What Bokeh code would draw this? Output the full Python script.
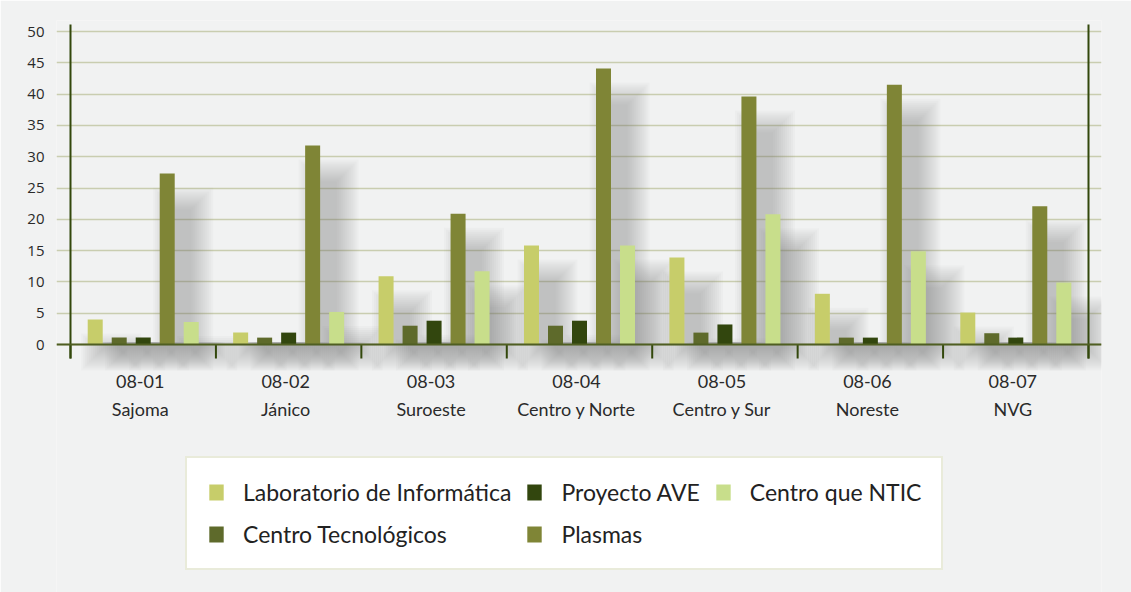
from bokeh.plotting import figure
from bokeh.models import Range1d, Legend, LegendItem, ColumnDataSource, Span
from bokeh.core.properties import value
from bokeh.embed import file_html
from bokeh.resources import INLINE
import numpy as np

# ---------------- data ----------------
codes = ["08-01", "08-02", "08-03", "08-04", "08-05", "08-06", "08-07"]
names = ["Sajoma", "Jánico", "Suroeste", "Centro y Norte", "Centro y Sur", "Noreste", "NVG"]
series = ["Laboratorio de Informática", "Centro Tecnológicos", "Proyecto AVE", "Plasmas", "Centro que NTIC"]
laboratorio = [4.0, 1.9, 10.9, 15.8, 13.9, 8.1, 5.1]
tecnologicos = [1.1, 1.1, 3.0, 3.0, 1.9, 1.1, 1.8]
proyecto_ave = [1.1, 1.9, 3.8, 3.8, 3.2, 1.1, 1.1]
plasmas = [27.3, 31.8, 20.9, 44.1, 39.6, 41.5, 22.1]
centro_ntic = [3.6, 5.2, 11.7, 15.8, 20.8, 14.9, 9.9]
y_ticks = [0, 5, 10, 15, 20, 25, 30, 35, 40, 45, 50]

values_by_series = [laboratorio, tecnologicos, proyecto_ave, plasmas, centro_ntic]
colors = ["#c7cd6a", "#5e6a2b", "#32460e", "#7f8536", "#c8de8b"]

# ---------------- layout constants ----------------
W, H = 1131, 592
LEFT, TOP, RIGHT = 56, 20, 30
ZERO_Y = 344                      # pixel row of value 0
PX_X = 145.44                     # px per category unit
PX_Y = 6.26                       # px per value unit
bar_step = 24 / PX_X
bar_w = 15 / PX_X
ncat = len(codes)

x0 = -14 / PX_X
x1 = ncat + 13 / PX_X
y0 = -(H - ZERO_Y) / PX_Y
y1 = (ZERO_Y - TOP) / PX_Y

p = figure(width=W, height=H,
           x_range=Range1d(x0, x1), y_range=Range1d(y0, y1),
           min_border_left=LEFT, min_border_right=RIGHT, min_border_top=TOP, min_border_bottom=0,
           x_axis_location=None, toolbar_location=None, output_backend="svg",
           outline_line_color=None)
p.background_fill_color = "#f1f2f2"
p.border_fill_color = "#f1f2f2"

# y axis
p.yaxis.ticker = y_ticks
p.yaxis.axis_line_color = None
p.yaxis.major_tick_line_color = None
p.yaxis.minor_tick_line_color = None
p.yaxis.major_label_standoff = 6
p.yaxis.major_label_text_font = "Open Sans"
p.yaxis.major_label_text_font_size = "15px"
p.yaxis.major_label_text_color = "#2a2a2a"
p.ygrid.grid_line_color = "#c9cdb0"
p.ygrid.grid_line_width = 1.5
for g in p.xgrid:
    g.visible = False

centers = np.arange(ncat) + 0.5
offsets = (np.arange(len(series)) - 2) * bar_step

# blurred drop shadows (stacked translucent layers)
for k, vals in enumerate(values_by_series):
    v = np.array(vals)
    xc = centers + offsets[k] + 16 / PX_X
    for i in range(12):
        grow = 2 * i
        half = (8 + grow) / PX_X
        top = np.maximum(v - (36 - grow) / PX_Y, 0.4)
        bot = -(4 + grow) / PX_Y
        p.quad(left=xc - half, right=xc + half, top=top, bottom=bot,
               fill_color="#737475", fill_alpha=0.036, line_color=None)

# bars
renderers = []
for k, vals in enumerate(values_by_series):
    src = ColumnDataSource(dict(x=centers + offsets[k], top=vals))
    r = p.vbar(x="x", top="top", width=bar_w, bottom=0, source=src,
               fill_color=colors[k], line_color=None)
    renderers.append(r)

# axis lines
p.add_layout(Span(location=0, dimension="width", line_color="#4f5e22", line_width=2))
bounds = np.arange(ncat + 1)
p.segment(x0=bounds, y0=0, x1=bounds, y1=-14 / PX_Y, line_color="#33480c", line_width=2)
p.segment(x0=[0, ncat], y0=-14 / PX_Y, x1=[0, ncat], y1=320 / PX_Y,
          line_color="#33480c", line_width=2)

# category labels
p.text(x=centers - 3 / PX_X, y=-37 / PX_Y, text=codes, text_align="center", text_baseline="middle",
       text_font=value("Lato"), text_font_size="18px", text_color="#2a2a2a")
p.text(x=centers - 3 / PX_X, y=-64 / PX_Y, text=names, text_align="center", text_baseline="middle",
       text_font=value("Lato"), text_font_size="18px", text_color="#2a2a2a")

# legend
items = [LegendItem(label=s, renderers=[r]) for s, r in zip(series, renderers)]
legend = Legend(items=items, location=(129, 22), nrows=2, orientation="vertical",
                glyph_width=18, glyph_height=20, label_height=20,
                label_text_font="Lato", label_text_font_size="23px", label_text_color="#222222",
                label_standoff=18, spacing=14, padding=20, margin=0,
                border_line_color="#d3d8b6", border_line_width=2,
                background_fill_color="white", background_fill_alpha=1.0)
p.add_layout(legend)

open("out.html", "w").write(file_html(p, INLINE))
